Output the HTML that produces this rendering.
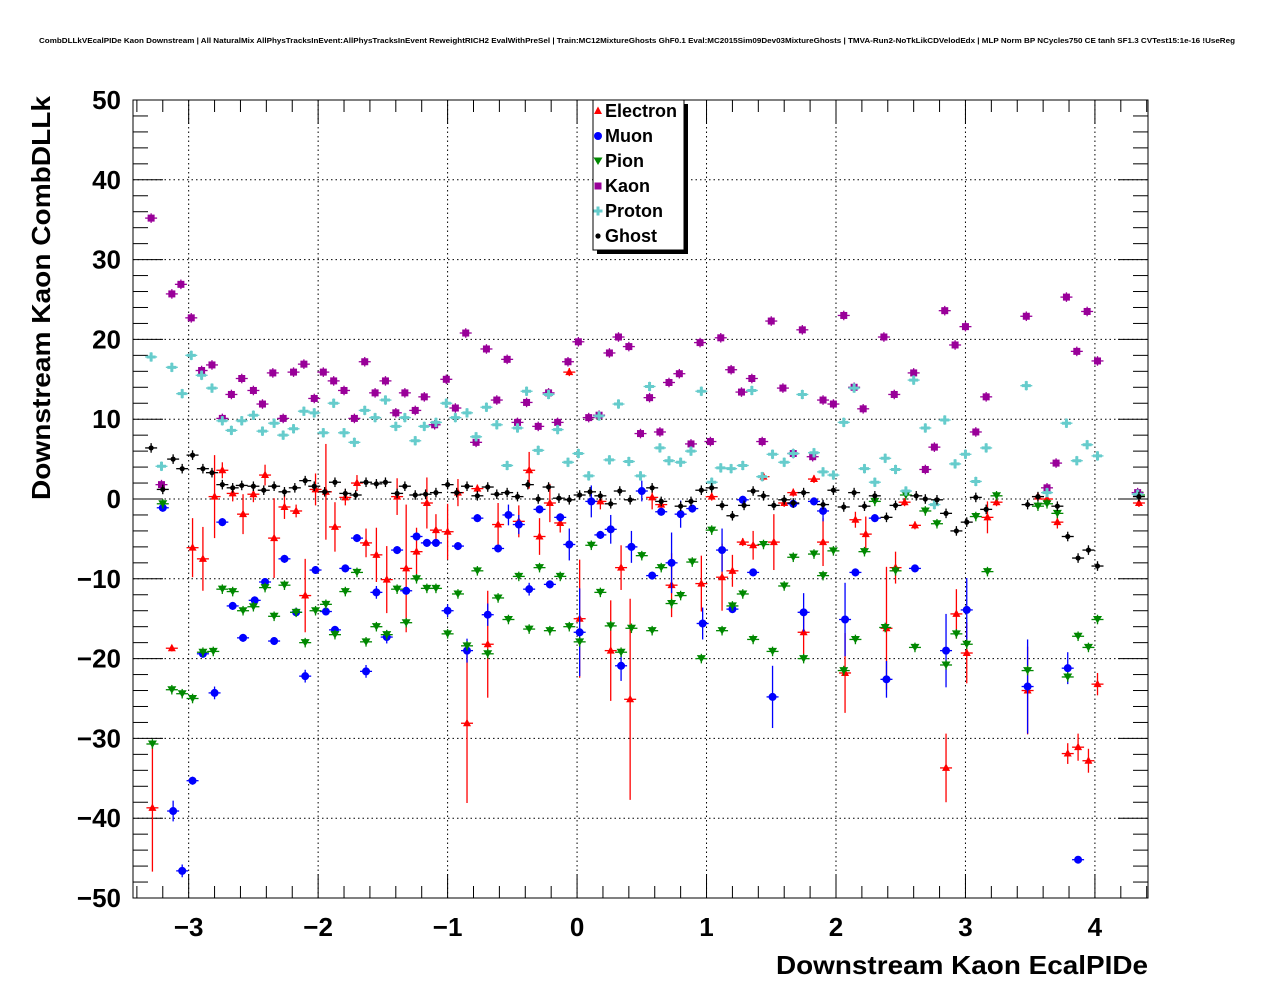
<!DOCTYPE html>
<html><head><meta charset="utf-8"><style>
html,body{margin:0;padding:0;background:#fff;}
svg{display:block;font-family:"Liberation Sans",sans-serif;}
</style></head><body>
<svg id="chart" width="1276" height="996" viewBox="0 0 1276 996">
<text x="637" y="43" text-anchor="middle" font-size="7.6" font-weight="bold" textLength="1196" lengthAdjust="spacingAndGlyphs">CombDLLkVEcalPIDe Kaon Downstream | All NaturalMix AllPhysTracksInEvent:AllPhysTracksInEvent ReweightRICH2 EvalWithPreSel | Train:MC12MixtureGhosts GhF0.1 Eval:MC2015Sim09Dev03MixtureGhosts | TMVA-Run2-NoTkLikCDVelodEdx | MLP Norm BP NCycles750 CE tanh SF1.3 CVTest15:1e-16 !UseReg</text>
<g id="grid"></g>
<g id="axes"></g>
<g id="marks"></g>
<text x="1148" y="974" text-anchor="end" font-size="26" font-weight="bold" textLength="372" lengthAdjust="spacingAndGlyphs">Downstream Kaon EcalPIDe</text>
<text transform="translate(50,500) rotate(-90)" x="0" y="0" font-size="26" font-weight="bold" textLength="404" lengthAdjust="spacingAndGlyphs">Downstream Kaon CombDLLk</text>
<g id="legend">
<rect x="597" y="104" width="91" height="150" fill="#000"/>
<rect x="593" y="100" width="91" height="150" fill="#fff" stroke="#000" stroke-width="1"/>
</g>
</svg>
<script>
// ---- data ----
const kaonX=[-3.29,-3.21,-3.13,-3.06,-2.98,-2.90,-2.82,-2.74,-2.67,-2.59,-2.50,-2.43,-2.35,-2.27,-2.19,-2.11,-2.03,-1.96,-1.88,-1.80,-1.72,-1.64,-1.56,-1.48,-1.40,-1.33,-1.25,-1.18,-1.10,-1.01,-0.94,-0.86,-0.78,-0.70,-0.62,-0.54,-0.46,-0.39,-0.30,-0.22,-0.15,-0.07,0.01,0.09,0.17,0.25,0.32,0.40,0.49,0.56,0.64,0.71,0.79,0.88,0.95,1.03,1.11,1.19,1.27,1.35,1.43,1.50,1.59,1.67,1.74,1.82,1.90,1.98,2.06,2.14,2.21,2.37,2.45,2.60,2.69,2.76,2.84,2.92,3.00,3.08,3.16,3.47,3.63,3.70,3.78,3.86,3.94,4.02,4.33];
const kaonY=[35.2,1.8,25.7,26.9,22.7,16.1,16.8,10.1,13.1,15.1,13.6,11.9,15.8,10.1,15.9,16.9,12.6,15.9,14.8,13.6,10.1,17.2,13.3,14.8,10.8,13.3,11.1,12.8,9.3,15.0,11.4,20.8,7.1,18.8,12.4,17.5,9.6,12.1,9.1,13.3,9.6,17.2,19.7,10.2,10.5,18.3,20.3,19.1,8.2,12.7,8.4,14.6,15.7,6.9,19.6,7.2,20.2,16.2,13.4,15.1,7.2,22.3,13.9,5.7,21.2,5.3,12.4,11.9,23.0,14.0,11.3,20.3,13.1,15.8,3.7,6.5,23.6,19.3,21.6,8.4,12.8,22.9,1.4,4.5,25.3,18.5,23.5,17.3,0.8];
const protonX=[-3.29,-3.21,-3.13,-3.05,-2.98,-2.90,-2.82,-2.74,-2.67,-2.59,-2.50,-2.43,-2.34,-2.27,-2.19,-2.11,-2.03,-1.96,-1.88,-1.80,-1.72,-1.64,-1.56,-1.48,-1.40,-1.33,-1.25,-1.18,-1.09,-1.01,-0.94,-0.85,-0.78,-0.70,-0.62,-0.54,-0.46,-0.39,-0.30,-0.22,-0.15,-0.07,0.01,0.09,0.17,0.25,0.32,0.40,0.49,0.56,0.64,0.71,0.80,0.88,0.96,1.04,1.11,1.19,1.28,1.35,1.43,1.51,1.60,1.67,1.74,1.83,1.90,1.98,2.06,2.14,2.22,2.30,2.38,2.46,2.54,2.60,2.69,2.76,2.84,2.92,3.00,3.08,3.16,3.47,3.63,3.78,3.86,3.94,4.02,4.33];
const protonY=[17.8,4.1,16.5,13.2,18.0,15.5,13.9,9.8,8.6,9.8,10.5,8.5,9.5,8.0,8.8,11.0,10.8,8.3,12.0,8.3,7.1,11.1,10.2,12.4,9.1,10.2,7.3,9.1,9.6,12.0,10.2,10.8,7.8,11.5,9.3,4.2,8.9,13.5,6.1,13.1,8.7,4.6,5.7,2.9,10.4,4.9,11.9,4.7,2.9,14.1,6.4,4.8,4.6,6.0,13.5,2.1,3.9,3.8,4.2,13.6,2.8,5.6,4.6,5.7,13.1,5.8,3.4,3.0,9.6,13.9,3.8,2.1,5.1,3.7,1.0,14.9,8.9,-0.7,9.9,4.4,5.6,2.2,6.4,14.2,0.8,9.5,4.8,6.8,5.4,0.6];
const ghostX=[-3.29,-3.20,-3.12,-3.05,-2.97,-2.89,-2.82,-2.74,-2.66,-2.59,-2.50,-2.42,-2.34,-2.26,-2.18,-2.10,-2.03,-1.95,-1.87,-1.79,-1.71,-1.63,-1.55,-1.48,-1.39,-1.33,-1.25,-1.17,-1.09,-1.00,-0.93,-0.85,-0.77,-0.69,-0.62,-0.54,-0.46,-0.38,-0.30,-0.22,-0.14,-0.06,0.02,0.10,0.18,0.26,0.33,0.41,0.58,0.65,0.80,0.88,0.96,1.04,1.12,1.20,1.29,1.36,1.44,1.52,1.60,1.67,1.75,1.90,1.98,2.06,2.14,2.22,2.30,2.39,2.46,2.62,2.69,2.78,2.85,2.93,3.01,3.08,3.16,3.48,3.56,3.71,3.79,3.87,3.95,4.02,4.34];
const ghostY=[6.4,1.2,5.0,3.8,5.5,3.8,3.3,1.8,1.4,1.7,1.6,1.1,1.6,0.9,1.4,2.3,1.6,0.9,2.1,0.7,0.5,2.1,1.9,2.1,0.7,1.6,0.5,0.6,0.8,1.8,0.8,1.6,0.4,1.5,0.6,0.8,0.3,1.8,0.0,1.5,0.1,-0.1,0.5,0.9,0.4,-0.6,1.0,-0.1,1.4,-0.3,-0.9,-0.3,1.1,1.4,-0.8,-2.1,-0.8,1.0,0.4,-0.8,-0.1,-0.5,0.8,-0.7,1.1,-1.0,0.8,-0.9,0.4,-2.3,-0.8,0.4,0.0,-0.1,-1.8,-4.0,-2.9,0.2,-1.3,-0.7,0.3,-0.9,-4.7,-7.4,-6.4,-8.4,0.3];
const electronX=[-3.28,-3.13,-2.97,-2.89,-2.80,-2.74,-2.66,-2.58,-2.50,-2.41,-2.34,-2.26,-2.17,-2.10,-2.02,-1.94,-1.87,-1.79,-1.70,-1.63,-1.55,-1.47,-1.39,-1.32,-1.24,-1.16,-1.09,-1.00,-0.92,-0.85,-0.77,-0.69,-0.61,-0.45,-0.37,-0.29,-0.21,-0.13,-0.06,0.02,0.18,0.26,0.34,0.41,0.58,0.65,0.73,0.96,1.04,1.12,1.20,1.28,1.36,1.44,1.52,1.60,1.67,1.75,1.83,1.90,2.07,2.15,2.23,2.39,2.46,2.53,2.61,2.85,2.93,3.01,3.17,3.24,3.48,3.56,3.63,3.71,3.79,3.87,3.95,4.02,4.34];
const electronY=[-38.7,-18.7,-6.1,-7.5,0.3,3.6,0.7,-1.9,0.6,3.0,-4.9,-1.0,-1.5,-12.1,1.2,0.9,-3.5,0.2,2.0,-5.5,-7.0,-10.1,0.3,-8.7,-6.6,-0.5,-3.9,-4.1,0.8,-28.1,1.3,-18.2,-3.2,-2.8,3.6,-4.7,-0.5,-3.0,15.9,-15.0,-0.3,-19.0,-8.6,-25.1,0.2,-0.7,-10.8,-10.6,0.3,-9.8,-9.0,-5.4,-5.8,2.8,-5.4,-0.5,0.8,-16.7,2.5,-5.4,-21.8,-2.6,-4.4,-16.2,-8.6,-0.4,-3.3,-33.7,-14.4,-19.3,-2.3,-0.4,-24.0,0.3,0.0,-2.9,-31.9,-31.1,-32.8,-23.2,-0.5];
const electronErr=[8,0.4,3.7,4,5.2,1,1,2.5,1,1.3,5,1.5,0.8,4.6,2,6,3.1,1,1,1.8,3.4,4.2,2.3,8,3,3.2,2,3.5,1.7,10,0.5,6.7,2.7,2,2.3,2.3,2.4,1.2,0.5,7.4,1,6.3,2.8,12.6,1.5,0.5,4,3.5,0.5,4.2,2,0.5,1.8,0.5,3.5,0.5,0.5,2.8,0.5,3,5,1,2.2,7.7,2,0.5,0.5,4.3,3.1,3.8,2,0.5,5.5,0.5,0.5,0.8,1.3,1.7,1.5,1.4,0.5];
const muonX=[-3.20,-3.12,-3.05,-2.97,-2.89,-2.80,-2.74,-2.66,-2.58,-2.49,-2.41,-2.34,-2.26,-2.17,-2.10,-2.02,-1.94,-1.87,-1.79,-1.70,-1.63,-1.55,-1.47,-1.39,-1.32,-1.24,-1.16,-1.09,-1.00,-0.92,-0.85,-0.77,-0.69,-0.61,-0.53,-0.45,-0.37,-0.29,-0.21,-0.13,-0.06,0.02,0.11,0.18,0.26,0.34,0.42,0.50,0.58,0.65,0.73,0.80,0.89,0.97,1.12,1.20,1.28,1.36,1.51,1.67,1.75,1.83,1.90,2.07,2.15,2.30,2.39,2.61,2.85,3.01,3.48,3.79,3.87];
const muonY=[-1.1,-39.1,-46.6,-35.3,-19.4,-24.3,-2.9,-13.4,-17.4,-12.7,-10.4,-17.8,-7.5,-14.2,-22.2,-8.9,-14.1,-16.4,-8.7,-4.9,-21.6,-11.7,-17.3,-6.4,-11.5,-4.7,-5.5,-5.5,-14.0,-5.9,-19.0,-2.4,-14.5,-6.2,-2.0,-3.2,-11.3,-1.3,-10.7,-2.3,-5.7,-16.7,-0.3,-4.5,-3.8,-20.9,-6.0,1.0,-9.6,-1.6,-8.0,-1.9,-1.2,-15.6,-6.4,-13.8,-0.1,-9.2,-24.8,-0.6,-14.2,-0.3,-1.5,-15.1,-9.2,-2.4,-22.6,-8.7,-19.0,-13.9,-23.5,-21.2,-45.2];
const muonErr=[0.5,1.3,0.8,0.5,0.5,0.8,0.5,0.5,0.5,0.5,0.5,0.5,0.5,0.5,0.8,0.5,0.5,0.5,0.5,0.5,0.8,0.8,0.8,0.5,0.5,0.5,0.5,0.5,0.8,0.5,1.5,0.5,1.4,0.5,1.3,1.2,0.8,0.5,0.5,0.5,2,5.5,2,0.5,1.8,1.9,2,1.3,0.5,0.5,3.8,1.7,0.5,2,2.7,0.5,0.5,0.5,3.9,0.5,2.4,0.5,1.3,4.6,0.5,0.5,2.3,0.5,4.6,4,5.9,2,0.3];
const pionX=[-3.28,-3.20,-3.13,-3.05,-2.97,-2.89,-2.81,-2.74,-2.66,-2.58,-2.50,-2.41,-2.34,-2.26,-2.17,-2.10,-2.02,-1.94,-1.87,-1.79,-1.70,-1.63,-1.55,-1.47,-1.39,-1.32,-1.24,-1.16,-1.09,-1.00,-0.92,-0.85,-0.77,-0.69,-0.61,-0.53,-0.45,-0.37,-0.29,-0.21,-0.13,-0.06,0.02,0.11,0.18,0.26,0.34,0.42,0.50,0.58,0.65,0.73,0.80,0.89,0.96,1.04,1.12,1.20,1.28,1.36,1.44,1.51,1.60,1.67,1.75,1.83,1.90,1.98,2.06,2.15,2.22,2.30,2.38,2.46,2.54,2.61,2.69,2.78,2.85,2.93,3.01,3.08,3.17,3.24,3.48,3.56,3.63,3.71,3.79,3.87,3.95,4.02,4.34];
const pionY=[-30.7,-0.6,-23.9,-24.4,-25.0,-19.2,-19.1,-11.3,-11.6,-14.0,-13.5,-11.1,-14.7,-10.8,-14.2,-18.0,-14.0,-13.2,-17.0,-11.6,-9.2,-17.9,-16.0,-17.0,-11.3,-15.5,-10.0,-11.2,-11.2,-16.9,-11.9,-18.4,-9.0,-19.4,-12.4,-15.1,-9.7,-16.3,-8.6,-16.5,-9.7,-16.0,-17.9,-5.8,-11.7,-15.9,-19.2,-16.2,-7.1,-16.5,-8.6,-13.1,-12.1,-7.9,-20.0,-3.9,-16.5,-13.4,-11.9,-17.6,-5.7,-19.1,-10.9,-7.3,-20.0,-6.9,-9.6,-6.5,-21.5,-17.6,-6.6,-0.3,-16.1,-9.0,0.5,-18.6,-1.5,-3.1,-20.8,-16.9,-18.2,-2.2,-9.1,0.4,-21.5,-0.9,-0.6,-1.8,-22.3,-17.2,-18.6,-15.1,0.5];
const xTicks=[-3,-2,-1,0,1,2,3,4];
const xTickLabels=["\u22123","\u22122","\u22121","0","1","2","3","4"];
const yTicks=[-50,-40,-30,-20,-10,0,10,20,30,40,50];
const yTickLabels=["\u221250","\u221240","\u221230","\u221220","\u221210","0","10","20","30","40","50"];
const legendLabels=["Electron","Muon","Pion","Kaon","Proton","Ghost"];

// ---- scales ----
const X0=133,X1=1148,Y0=100,Y1=898,XMIN=-3.43,XMAX=4.41,YMIN=-50,YMAX=50;
const sx=v=>X0+(v-XMIN)/(XMAX-XMIN)*(X1-X0);
const sy=v=>Y1-(v-YMIN)/(YMAX-YMIN)*(Y1-Y0);
const NS="http://www.w3.org/2000/svg";
function mk(tag,attrs,parent){const e=document.createElementNS(NS,tag);for(const k in attrs)e.setAttribute(k,attrs[k]);parent.appendChild(e);return e;}
const grid=document.getElementById('grid'),axes=document.getElementById('axes'),marks=document.getElementById('marks'),legend=document.getElementById('legend');

// grid
xTicks.forEach(t=>{const l=mk('line',{x1:sx(t),x2:sx(t),y1:Y0,y2:Y1,stroke:'#000','stroke-width':1,'stroke-dasharray':'1.5,3'},grid);

});
yTicks.slice(1,-1).forEach(t=>{const l=mk('line',{x1:X0,x2:X1,y1:sy(t),y2:sy(t),stroke:'#000','stroke-width':1,'stroke-dasharray':'1.5,3'},grid);

});

// frame
const fr=mk('rect',{x:X0,y:Y0,width:X1-X0,height:Y1-Y0,fill:'none',stroke:'#000','stroke-width':1},axes);


// y ticks
for(let v=YMIN;v<=YMAX;v+=2){const major=(v%10===0);const L=major?30:15;const y=sy(v);
 const a=mk('line',{x1:X0,x2:X0+L,y1:y,y2:y,stroke:'#000','stroke-width':1},axes);
 
 
 const b=mk('line',{x1:X1,x2:X1-L,y1:y,y2:y,stroke:'#000','stroke-width':1},axes);
 
 }
// x ticks
for(let i=-17;i<=22;i++){const v=i*0.2;if(v<XMIN||v>XMAX)continue;const major=(i%5===0);const L=major?24:12;const x=sx(v);
 const a=mk('line',{x1:x,x2:x,y1:Y1,y2:Y1-L,stroke:'#000','stroke-width':1},axes);
 
 
 const b=mk('line',{x1:x,x2:x,y1:Y0,y2:Y0+L,stroke:'#000','stroke-width':1},axes);
 
 }
yTicks.forEach((t,i)=>{const e=mk('text',{x:121,y:sy(t)+9,'text-anchor':'end','font-size':26,'font-weight':'bold'},axes);e.textContent=yTickLabels[i];
 
 });
xTicks.forEach((t,i)=>{const e=mk('text',{x:sx(t),y:936,'text-anchor':'middle','font-size':26,'font-weight':'bold'},axes);e.textContent=xTickLabels[i];
 
 });

// markers
function marker(kind,cx,cy,parent){let e;
 if(kind==='tri'){e=mk('polygon',{points:`${cx},${cy-4.5} ${cx-4},${cy+3} ${cx+4},${cy+3}`,fill:'#ff0000'},parent);}
 else if(kind==='circ'){e=mk('circle',{cx:cx,cy:cy,r:4,fill:'#0000ff'},parent);}
 else if(kind==='tridn'){e=mk('polygon',{points:`${cx-4.5},${cy-3.5} ${cx+4.5},${cy-3.5} ${cx},${cy+4}`,fill:'#008800'},parent);}
 else if(kind==='sq'){e=mk('rect',{x:cx-3.5,y:cy-3.5,width:7,height:7,fill:'#990099'},parent);}
 else if(kind==='cross'){e=mk('path',{d:`M${cx-1.5},${cy-4.5}h3v3h3v3h-3v3h-3v-3h-3v-3h3z`,fill:'#66cccc'},parent);}
 else {e=mk('circle',{cx:cx,cy:cy,r:2.6,fill:'#000'},parent);}
 return e;}
const series=[
 {name:'electron',xs:electronX,ys:electronY,err:electronErr,kind:'tri',col:'#ff0000'},
 {name:'muon',xs:muonX,ys:muonY,err:muonErr,kind:'circ',col:'#0000ff'},
 {name:'pion',xs:pionX,ys:pionY,err:null,kind:'tridn',col:'#008800'},
 {name:'kaon',xs:kaonX,ys:kaonY,err:null,kind:'sq',col:'#990099'},
 {name:'proton',xs:protonX,ys:protonY,err:null,kind:'cross',col:'#66cccc'},
 {name:'ghost',xs:ghostX,ys:ghostY,err:null,kind:'dot',col:'#000000'}];
series.forEach(s=>{
 const g=mk('g',{},marks);
 
 
 s.xs.forEach((xv,i)=>{const cx=sx(xv),cy=sy(s.ys[i]);const er=s.err?s.err[i]:0.6;
  const h=mk('line',{x1:cx-6,x2:cx+6,y1:cy,y2:cy,stroke:s.col,'stroke-width':1.3},g);
  
  
  const v=mk('line',{x1:cx,x2:cx,y1:sy(s.ys[i]+er),y2:sy(s.ys[i]-er),stroke:s.col,'stroke-width':1.3},g);
  
  
  const m=marker(s.kind,cx,cy,g);
  
  });
});

// legend entries
series.forEach((s,i)=>{const y=111+i*25;
 const m=marker(s.kind,598,y,legend);
 
 
 const t=mk('text',{x:605,y:y+6,'font-size':18,'font-weight':'bold'},legend);t.textContent=legendLabels[i];
 
 });
</script>
</body></html>
